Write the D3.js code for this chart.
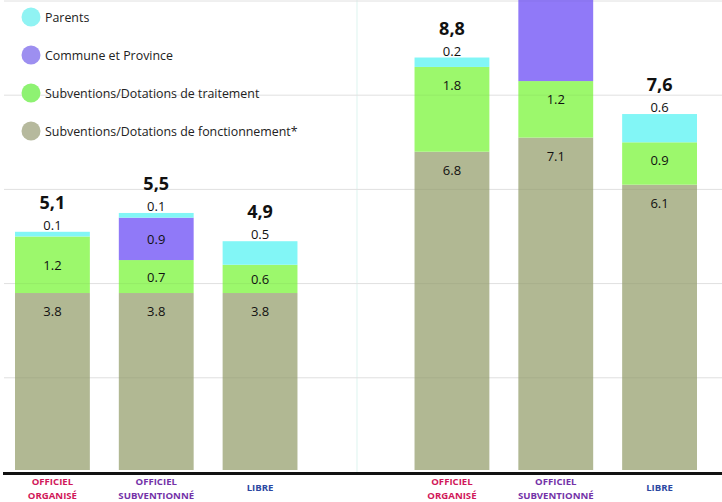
<!DOCTYPE html>
<html>
<head>
<meta charset="utf-8">
<script src="https://cdn.jsdelivr.net/npm/d3@7"></script>
<style>
  html, body { margin: 0; padding: 0; background: #fff; }
  svg { display: block; }
</style>
</head>
<body>
<svg id="chart" width="722" height="502"></svg>
<script>
// ---- data ----
const groups = ["groupe1", "groupe2"];
const networks = ["OFFICIEL ORGANISÉ", "OFFICIEL SUBVENTIONNÉ", "LIBRE"];
const networkLines = [["OFFICIEL", "ORGANISÉ"], ["OFFICIEL", "SUBVENTIONNÉ"], ["LIBRE"]];
const seriesNames = ["Subventions/Dotations de fonctionnement*", "Subventions/Dotations de traitement", "Commune et Province", "Parents"];
// values per bar: group1 (3 networks), then group2 (3 networks)
const fonctionnement = [3.8, 3.8, 3.8, 6.8, 7.1, 6.1];
const traitement     = [1.2, 0.7, 0.6, 1.8, 1.2, 0.9];
const commune        = [0,   0.9, 0,   0,   2.5, 0];
const parents        = [0.1, 0.1, 0.5, 0.2, 0,   0.6];
const gridTicks = [0, 2, 4, 6, 8, 10];
const legendOrder = ["Parents", "Commune et Province", "Subventions/Dotations de traitement", "Subventions/Dotations de fonctionnement*"];

// ---- styles ----
const colors = {
  "Subventions/Dotations de fonctionnement*": "#b1b893",
  "Subventions/Dotations de traitement": "#9cf86c",
  "Commune et Province": "#9079f8",
  "Parents": "#82f6f6"
};
const legendColors = {
  "Subventions/Dotations de fonctionnement*": "#b6b99d",
  "Subventions/Dotations de traitement": "#8ef272",
  "Commune et Province": "#9d8ff0",
  "Parents": "#90f3f3"
};
const labelColors = ["#d1175a", "#7432a8", "#2b48a2"];

const svg = d3.select("#chart");
const W = 722;

const y = d3.scaleLinear().domain([0, 10]).range([472, 1]);
const xGroup = d3.scaleBand().domain(groups).range([15, 697]).paddingInner(0.293).paddingOuter(0);
const xNet = d3.scaleBand().domain(networks).range([0, xGroup.bandwidth()]).paddingInner(0.279).paddingOuter(0);

// rows
const seriesArrays = [fonctionnement, traitement, commune, parents];
const rows = [];
groups.forEach((g, gi) => {
  networks.forEach((n, ni) => {
    const i = gi * networks.length + ni;
    const r = { group: g, network: n, gi, ni };
    seriesNames.forEach((s, si) => { r[s] = seriesArrays[si][i]; });
    rows.push(r);
  });
});

const stack = d3.stack().keys(seriesNames);
const stacked = stack(rows);

// vertical separator
svg.append("line")
  .attr("x1", 357).attr("x2", 357)
  .attr("y1", 0).attr("y2", y(0))
  .attr("stroke", "#e3f6f2").attr("stroke-width", 1.2);

// grid below bars
svg.append("g").selectAll("line")
  .data(gridTicks.filter(t => t > 0))
  .join("line")
  .attr("x1", 4).attr("x2", W)
  .attr("y1", d => y(d)).attr("y2", d => y(d))
  .attr("stroke", "#ececec").attr("stroke-width", 1);

const xOf = d => xGroup(d.data.group) + xNet(d.data.network);

// bars
const layers = svg.append("g").selectAll("g")
  .data(stacked)
  .join("g")
  .attr("fill", s => colors[s.key]);

layers.selectAll("rect")
  .data(s => s.filter(d => d[1] - d[0] > 0))
  .join("rect")
  .attr("x", xOf)
  .attr("width", xNet.bandwidth())
  .attr("y", d => y(d[1]))
  .attr("height", d => y(d[0]) - y(d[1]) - (d[0] === 0 ? 2 : 0));

// faint grid over bars
svg.append("g").selectAll("line")
  .data(gridTicks.filter(t => t > 0))
  .join("line")
  .attr("x1", 4).attr("x2", W)
  .attr("y1", d => y(d)).attr("y2", d => y(d))
  .attr("stroke", "rgba(0,0,0,0.05)").attr("stroke-width", 1);

// value labels (only those that fall inside the visible frame)
const fmt = v => v.toFixed(1);
stacked.forEach(s => {
  s.forEach(d => {
    const v = d[1] - d[0];
    if (v <= 0) return;
    const x = xOf(d) + xNet.bandwidth() / 2;
    const top = y(d[1]), bottom = y(d[0]);
    let cy;
    if (s.key === "Parents") {
      cy = top - 7;
    } else if (s.key === seriesNames[0]) {
      cy = top + 18;
    } else if (d.data.gi === 0) {
      cy = (top + bottom) / 2;
    } else {
      cy = Math.min((top + bottom) / 2, top + 18);
    }
    if (cy < 10) return;
    svg.append("text")
      .attr("x", x).attr("y", cy)
      .attr("text-anchor", "middle")
      .attr("dominant-baseline", "central")
      .attr("font-family", "'Open Sans', sans-serif")
      .attr("font-size", 13)
      .attr("fill", "#111")
      .text(fmt(v));
  });
});

// totals
rows.forEach((r, i) => {
  const total = seriesNames.reduce((a, s) => a + r[s], 0);
  const x = xGroup(r.group) + xNet(r.network) + xNet.bandwidth() / 2;
  const cy = y(total) - 30;
  if (cy < 10) return;
  svg.append("text")
    .attr("x", x).attr("y", cy)
    .attr("text-anchor", "middle")
    .attr("dominant-baseline", "central")
    .attr("font-family", "'Open Sans', sans-serif")
    .attr("font-weight", 700)
    .attr("font-size", 18)
    .attr("fill", "#111")
    .text((Math.round(total * 10) / 10).toFixed(1).replace(".", ","));
});

// baseline
svg.append("line")
  .attr("x1", 3).attr("x2", W)
  .attr("y1", y(0) + 1.5).attr("y2", y(0) + 1.5)
  .attr("stroke", "#111").attr("stroke-width", 3);

// x labels
groups.forEach(g => {
  networks.forEach((n, ni) => {
    const x = xGroup(g) + xNet(n) + xNet.bandwidth() / 2;
    const lines = networkLines[ni];
    const t = svg.append("text")
      .attr("text-anchor", "middle")
      .attr("font-family", "'Open Sans', sans-serif")
      .attr("font-weight", 700)
      .attr("font-size", 9.6)
      .attr("fill", labelColors[ni]);
    if (lines.length === 1) {
      t.append("tspan").attr("x", x).attr("y", 491).text(lines[0]);
    } else {
      t.append("tspan").attr("x", x).attr("y", 485).text(lines[0]);
      t.append("tspan").attr("x", x).attr("y", 499).text(lines[1]);
    }
  });
});

// legend
const legend = svg.append("g");
legendOrder.forEach((name, i) => {
  const cy = 17 + i * 38;
  legend.append("circle").attr("cx", 31).attr("cy", cy).attr("r", 9.5).attr("fill", legendColors[name]);
  legend.append("text")
    .attr("x", 45).attr("y", cy)
    .attr("dominant-baseline", "central")
    .attr("font-family", "'Open Sans', sans-serif")
    .attr("font-size", 12.4)
    .attr("fill", "#222")
    .text(name);
});
</script>
</body>
</html>
